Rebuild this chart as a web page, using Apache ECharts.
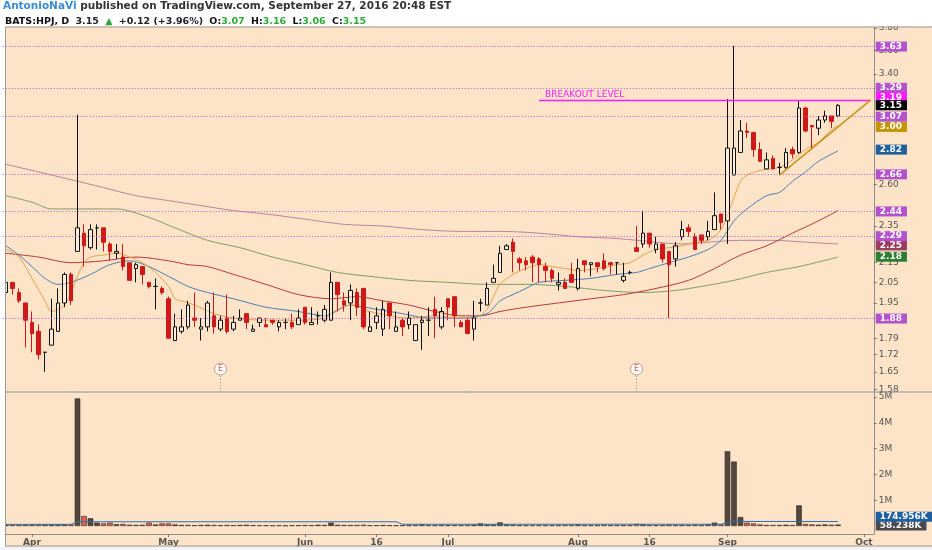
<!DOCTYPE html>
<html><head><meta charset="utf-8">
<script src="https://cdn.jsdelivr.net/npm/echarts@6/dist/echarts.min.js"></script>
<style>html,body{margin:0;padding:0;background:#fff;}#c{width:932px;height:550px;}</style>
</head><body><div id="c"></div>
<script>
const dates = ['03-28','03-29','03-30','03-31',
'04-01','04-04','04-05','04-06','04-07','04-08','04-11','04-12','04-13','04-14','04-15','04-18','04-19','04-20','04-21','04-22','04-25','04-26','04-27','04-28','04-29',
'05-02','05-03','05-04','05-05','05-06','05-09','05-10','05-11','05-12','05-13','05-16','05-17','05-18','05-19','05-20','05-23','05-24','05-25','05-26','05-27','05-31',
'06-01','06-02','06-03','06-06','06-07','06-08','06-09','06-10','06-13','06-14','06-15','06-16','06-17','06-20','06-21','06-22','06-23','06-24','06-27','06-28','06-29','06-30',
'07-01','07-05','07-06','07-07','07-08','07-11','07-12','07-13','07-14','07-15','07-18','07-19','07-20','07-21','07-22','07-25','07-26','07-27','07-28','07-29',
'08-01','08-02','08-03','08-04','08-05','08-08','08-09','08-10','08-11','08-12','08-15','08-16','08-17','08-18','08-19','08-22','08-23','08-24','08-25','08-26','08-29','08-30','08-31',
'09-01','09-02','09-06','09-07','09-08','09-09','09-12','09-13','09-14','09-15','09-16','09-19','09-20','09-21','09-22','09-23','09-26','09-27','09-28','09-29','09-30',
'10-03','10-04'];

const opens = [2.00,2.05,2.00,1.95,1.86,1.82,1.73,1.76,1.82,1.95,
 2.09,2.21,2.31,2.23,2.34,2.34,2.25,2.20,2.18,2.15,
 2.12,2.13,2.05,2.03,2.02,1.97,1.78,1.82,1.84,1.88,
 1.83,1.84,1.89,1.83,1.88,1.83,1.87,1.90,1.82,1.86,
 1.85,1.87,1.84,1.86,1.86,1.85,1.93,1.85,1.89,1.87,
 1.87,2.05,1.96,1.95,2.00,2.02,1.82,1.86,1.83,1.95,
 1.82,1.87,1.85,1.78,1.86,1.87,1.92,1.84,1.97,1.98,
 1.86,1.87,1.83,1.95,1.94,2.05,2.10,2.22,2.26,2.17,
 2.16,2.18,2.17,2.13,2.11,2.04,2.05,2.09,2.02,2.16,
 2.14,2.15,2.16,2.15,2.15,2.06,2.10,2.23,2.25,2.31,
 2.22,2.25,2.21,2.17,2.29,2.34,2.29,2.30,2.29,2.33,
 2.42,2.38,2.66,2.81,2.96,2.95,2.83,2.70,2.77,2.71,
 2.71,2.83,2.81,3.13,3.00,2.98,3.04,3.07,3.07];
const highs = [2.05,2.05,2.02,1.95,1.91,1.85,1.73,1.97,2.02,2.10,
 2.10,3.08,2.36,2.36,2.36,2.34,2.26,2.25,2.25,2.15,
 2.15,2.13,2.05,2.07,2.03,1.98,1.90,1.92,1.96,2.00,
 1.88,1.96,2.00,1.89,1.99,1.89,1.92,1.90,1.85,1.88,
 1.88,1.87,1.87,1.88,1.90,1.92,1.93,1.93,1.91,1.94,
 2.10,2.05,2.00,2.04,2.02,2.02,1.91,1.93,1.96,1.95,
 1.91,1.88,1.91,1.85,1.89,1.93,1.98,1.93,1.97,1.98,
 1.87,1.88,1.96,1.97,2.05,2.14,2.24,2.25,2.28,2.18,
 2.18,2.19,2.18,2.15,2.12,2.10,2.07,2.15,2.17,2.16,
 2.15,2.15,2.20,2.15,2.15,2.15,2.11,2.35,2.44,2.31,
 2.29,2.25,2.21,2.26,2.38,2.36,2.31,2.30,2.38,2.55,
 2.42,3.20,3.64,3.04,3.02,2.95,2.88,2.81,2.79,2.74,
 2.84,2.85,3.19,3.14,3.00,3.07,3.11,3.07,3.16];
const lows = [1.95,1.99,1.95,1.75,1.73,1.70,1.65,1.76,1.82,1.93,
 1.94,2.21,2.13,2.22,2.22,2.21,2.16,2.17,2.11,2.06,
 2.05,2.04,2.02,1.92,1.99,1.79,1.78,1.81,1.83,1.84,
 1.78,1.82,1.81,1.82,1.81,1.82,1.87,1.83,1.82,1.84,
 1.84,1.85,1.82,1.83,1.83,1.85,1.85,1.85,1.85,1.86,
 1.87,1.91,1.91,1.87,1.89,1.83,1.82,1.83,1.80,1.83,
 1.82,1.80,1.83,1.78,1.74,1.80,1.79,1.83,1.87,1.84,
 1.84,1.81,1.78,1.91,1.94,2.05,2.10,2.22,2.10,2.11,
 2.11,2.05,2.05,2.05,2.05,2.01,2.02,2.05,2.01,2.10,
 2.08,2.10,2.11,2.09,2.09,2.05,2.09,2.21,2.23,2.23,
 2.20,2.15,1.88,2.13,2.27,2.29,2.22,2.25,2.27,2.33,
 2.33,2.25,2.66,2.81,2.91,2.78,2.75,2.70,2.70,2.66,
 2.70,2.77,2.80,2.95,2.83,2.93,3.02,2.98,3.06];
const closes = [2.05,2.02,1.96,1.87,1.81,1.72,1.73,1.83,1.95,2.09,
 1.96,2.34,2.24,2.33,2.34,2.26,2.21,2.21,2.13,2.06,
 2.14,2.09,2.03,2.03,2.00,1.79,1.84,1.84,1.94,1.87,
 1.84,1.95,1.84,1.87,1.82,1.86,1.88,1.86,1.83,1.88,
 1.84,1.86,1.86,1.86,1.84,1.88,1.86,1.86,1.89,1.92,
 2.05,1.99,1.94,2.01,1.93,1.84,1.84,1.89,1.92,1.89,
 1.84,1.84,1.88,1.85,1.87,1.87,1.89,1.91,1.93,1.89,
 1.84,1.81,1.88,1.95,2.02,2.07,2.20,2.24,2.21,2.15,
 2.14,2.15,2.14,2.11,2.07,2.05,2.02,2.05,2.12,2.14,
 2.15,2.13,2.12,2.14,2.15,2.08,2.10,2.21,2.31,2.25,
 2.25,2.17,2.14,2.24,2.33,2.32,2.22,2.27,2.32,2.41,
 2.37,2.84,2.84,2.96,2.95,2.83,2.75,2.76,2.70,2.71,
 2.81,2.80,3.13,2.96,2.99,3.04,3.07,3.03,3.15];
// volume in millions
const volumes = [0.05,0.04,0.04,0.05,0.05,0.06,0.05,0.05,0.06,0.07,
 0.06,4.95,0.39,0.30,0.13,0.10,0.13,0.07,0.08,0.05,
 0.04,0.05,0.13,0.06,0.10,0.10,0.06,0.04,0.04,0.03,
 0.04,0.05,0.04,0.03,0.04,0.03,0.04,0.05,0.03,0.03,
 0.03,0.02,0.03,0.02,0.03,0.03,0.04,0.03,0.05,0.04,
 0.13,0.05,0.04,0.04,0.04,0.05,0.03,0.03,0.04,0.03,
 0.03,0.03,0.03,0.03,0.07,0.03,0.03,0.04,0.03,0.04,
 0.03,0.04,0.05,0.10,0.06,0.05,0.14,0.06,0.05,0.03,
 0.03,0.03,0.03,0.03,0.03,0.03,0.04,0.04,0.06,0.03,
 0.03,0.03,0.04,0.03,0.03,0.03,0.03,0.08,0.06,0.04,
 0.03,0.04,0.05,0.04,0.04,0.03,0.05,0.04,0.06,0.13,
 0.06,2.90,2.50,0.35,0.13,0.10,0.06,0.04,0.04,0.04,
 0.05,0.04,0.80,0.08,0.06,0.05,0.06,0.05,0.058238];

// moving averages: [bar index, value]
const maFast = [[0,2.22],[2,2.18],[4,2.07],[6,1.96],[7,1.91],[8,1.92],[9,1.94],[10,2.00],[11,2.08],[12,2.15],[13,2.18],[15,2.19],[17,2.20],[19,2.18],[21,2.15],[23,2.10],[25,2.03],[26,1.97],[27,1.96],[29,1.94],[32,1.90],[35,1.88],[40,1.87],[45,1.87],[49,1.88],[51,1.92],[53,1.94],[56,1.91],[59,1.89],[62,1.88],[66,1.89],[70,1.88],[72,1.88],[74,1.92],[75,1.98],[76,2.04],[78,2.09],[80,2.12],[82,2.14],[84,2.13],[86,2.12],[88,2.11],[91,2.12],[94,2.14],[96,2.15],[98,2.19],[100,2.22],[102,2.23],[104,2.24],[106,2.26],[108,2.27],[110,2.33],[112,2.52],[113,2.62],[114,2.66],[116,2.69],[119,2.71],[121,2.76],[123,2.83],[125,2.88],[127,2.97],[128,3.00]];
const maBlue = [[0,2.24],[2,2.19],[4,2.13],[6,2.07],[8,2.04],[10,2.05],[13,2.09],[16,2.14],[19,2.16],[22,2.13],[25,2.08],[28,2.03],[31,2.00],[35,1.97],[40,1.93],[45,1.91],[49,1.89],[53,1.94],[57,1.92],[61,1.90],[65,1.88],[70,1.88],[74,1.90],[76,1.96],[78,1.99],[80,2.02],[82,2.05],[86,2.06],[90,2.07],[94,2.09],[97,2.10],[99,2.12],[102,2.15],[105,2.18],[108,2.22],[110,2.27],[112,2.38],[114,2.45],[117,2.53],[119,2.55],[121,2.62],[123,2.68],[125,2.75],[128,2.82]];
const maRed = [[0,2.20],[5,2.18],[10,2.15],[15,2.16],[20,2.18],[25,2.16],[28,2.14],[31,2.13],[35,2.09],[40,2.04],[45,1.99],[50,1.97],[54,1.98],[58,1.96],[62,1.94],[66,1.91],[70,1.89],[73,1.89],[76,1.91],[80,1.93],[85,1.95],[90,1.97],[95,1.99],[100,2.02],[105,2.06],[109,2.12],[113,2.19],[117,2.24],[121,2.31],[125,2.38],[128,2.44]];
const maGreen = [[0,2.53],[4,2.49],[7,2.45],[12,2.45],[17,2.45],[22,2.40],[26,2.34],[31,2.27],[36,2.23],[41,2.18],[46,2.14],[51,2.10],[56,2.08],[62,2.06],[68,2.05],[74,2.04],[80,2.04],[86,2.03],[92,2.01],[98,2.00],[103,2.01],[107,2.03],[112,2.06],[117,2.10],[122,2.13],[128,2.18]];
const maMauve = [[0,2.73],[5,2.68],[10,2.63],[15,2.58],[20,2.53],[25,2.50],[30,2.47],[35,2.44],[40,2.42],[46,2.39],[52,2.36],[58,2.35],[64,2.33],[70,2.32],[76,2.32],[82,2.31],[88,2.29],[94,2.28],[100,2.26],[104,2.25],[108,2.26],[113,2.27],[118,2.27],[123,2.26],[128,2.25]];
const volMA = [[0,0.065],[10,0.065],[11,0.165],[60,0.165],[61,0.068],[110,0.07],[111,0.128],[112,0.178],[128,0.174956]];

const levels = [3.63, 3.29, 3.07, 2.66, 2.44, 2.29, 1.88];
const breakoutLevel = 3.19;
const breakoutStart = 82;
const trendLine = [[119, 2.66], [133, 3.19]];
const earningsIdx = [33, 97];
const priceTicks = [1.58, 1.65, 1.72, 1.79, 1.95, 2.05, 2.15, 2.35, 2.60, 3.40, 3.60, 3.80];
const volTicks = [1, 2, 3, 4, 5];
const xTickDates = ['04-01','05-02','06-01','06-16','07-01','08-01','08-16','09-01','10-03'];
const xTickLabels = ['Apr','May','Jun','16','Jul','Aug','16','Sep','Oct'];

// ---------- build ----------
const L = Math.log;
const FONT = 'DejaVu Sans';
const BG = '#fde3c7';
const RED = '#d01818';
const HL = '#b452cd';
const xLabelMap = {};
xTickDates.forEach((d, i) => xLabelMap[d] = xTickLabels[i]);
const n = closes.length;
const candleData = opens.map((o, i) => [L(o), L(closes[i]), L(lows[i]), L(highs[i])]);
const pairs = arr => arr.map(([i, v]) => [dates[i], L(v)]);
const lastVal = arr => arr[arr.length - 1][1];
function badge(text, bg) {
  return { show: true, position: 'end', distance: 2, formatter: text, backgroundColor: bg, color: '#fff',
    fontSize: 9, fontWeight: 'bold', fontFamily: FONT, padding: [1, 5, 0, 4], lineHeight: 9 };
}
const hidden = { color: 'rgba(0,0,0,0)', width: 1, type: 'solid' };
function maSeries(arr, color, badgeBg, dy) {
  const s = { type: 'line', xAxisIndex: 0, yAxisIndex: 0, data: pairs(arr), showSymbol: false, smooth: 0.3,
    lineStyle: { color: color, width: 1 }, silent: true, z: 3 };
  if (badgeBg) {
    s.markLine = { silent: true, symbol: ['none', 'none'], animation: false,
      data: [{ yAxis: L(lastVal(arr)), lineStyle: hidden, label: Object.assign(badge(lastVal(arr).toFixed(2), badgeBg), { offset: [0, dy || 0] }) }] };
  }
  return s;
}

const last = n - 1;
const chg = closes[last] - closes[last - 1];
const pct = chg / closes[last - 1] * 100;
const E_TOP = L(1.661), E_LINE_TOP = L(1.633), E_LINE_BOT = L(1.572);

const markLineData = [];
levels.forEach(v => markLineData.push({ yAxis: L(v), lineStyle: { color: HL, type: [1, 2], width: 1 }, label: badge(v.toFixed(2), HL) }));
markLineData.push([
  { coord: [dates[breakoutStart], L(breakoutLevel)], lineStyle: { color: '#ff19ff', width: 1.3, type: 'solid' },
    label: { show: true, position: 'insideStartTop', formatter: 'BREAKOUT LEVEL', color: '#ff19ff', fontSize: 9, fontFamily: FONT, distance: [6, 1] } },
  { coord: [dates[dates.length - 1], L(breakoutLevel)] }
]);
markLineData.push([
  { coord: [dates[trendLine[0][0]], L(trendLine[0][1])], lineStyle: { color: '#c8961e', width: 1.6, type: 'solid' }, label: { show: false } },
  { coord: [dates[trendLine[1][0]], L(trendLine[1][1])] }
]);
earningsIdx.forEach(i => markLineData.push([
  { coord: [dates[i], E_LINE_TOP], lineStyle: { color: '#a09080', width: 1, type: [1, 2] }, label: { show: false } },
  { coord: [dates[i], E_LINE_BOT] }
]));
markLineData.push({ yAxis: L(breakoutLevel), lineStyle: hidden, label: Object.assign(badge(breakoutLevel.toFixed(2), '#ff19ff'), { offset: [0, -3] }) });
markLineData.push({ yAxis: L(closes[last]), lineStyle: hidden, label: Object.assign(badge(closes[last].toFixed(2), '#000'), { offset: [0, 1] }) });

const option = {
  animation: false,
  backgroundColor: BG,
  textStyle: { fontFamily: FONT },
  title: [
    { left: 3, top: 1, padding: 0,
      text: '{a|AntonioNaVi}{b| published on TradingView.com, September 27, 2016 20:48 EST}',
      textStyle: { rich: { a: { color: '#3a8bd0', fontWeight: 'bold', fontSize: 10.5, fontFamily: FONT },
                           b: { color: '#333', fontSize: 10.5, fontFamily: FONT } } } },
    { left: 5, top: 13, padding: 0,
      text: '{k|BATS:HPJ, D} {n|' + closes[last].toFixed(2) + '} {g|▲} {n|+' + chg.toFixed(2) + ' (+' + pct.toFixed(2) + '%)} ' +
            '{k|O:}{g|' + opens[last].toFixed(2) + '} {k|H:}{g|' + highs[last].toFixed(2) + '} {k|L:}{g|' + lows[last].toFixed(2) + '} {k|C:}{g|' + closes[last].toFixed(2) + '}',
      textStyle: { rich: { k: { color: '#111', fontWeight: 'bold', fontSize: 9.5, fontFamily: FONT },
                           n: { color: '#222', fontSize: 9.5, fontFamily: FONT },
                           g: { color: '#2ea836', fontSize: 9.5, fontFamily: FONT } } } }
  ],
  grid: [
    { left: 2.75, right: 58.25, top: 27, height: 365 },
    { left: 2.75, right: 58.25, top: 392, height: 142 }
  ],
  xAxis: [
    { type: 'category', gridIndex: 0, data: dates, boundaryGap: true, show: false },
    { type: 'category', gridIndex: 1, data: dates, boundaryGap: true,
      axisLine: { onZero: false, lineStyle: { color: '#8f8f8f' } },
      axisTick: { show: true, length: 3, alignWithLabel: true, interval: (i, v) => xLabelMap[v] !== undefined, lineStyle: { color: '#777' } },
      axisLabel: { interval: (i, v) => xLabelMap[v] !== undefined, formatter: v => xLabelMap[v] || '', color: '#555', fontSize: 9, fontWeight: 'bold', fontFamily: FONT, margin: 4 },
      splitLine: { show: false } }
  ],
  yAxis: [
    { type: 'value', gridIndex: 0, position: 'right', min: L(1.571), max: L(3.81),
      axisLine: { show: true, lineStyle: { color: '#8f8f8f' } },
      axisTick: { show: true, length: 3, customValues: priceTicks.map(L), lineStyle: { color: '#777' } },
      axisLabel: { customValues: priceTicks.map(L), formatter: v => Math.exp(v).toFixed(2), color: '#555', fontSize: 9, fontFamily: FONT, margin: 5 },
      splitLine: { show: false } },
    { type: 'value', gridIndex: 1, position: 'right', min: -0.31, max: 5.2,
      axisLine: { show: true, lineStyle: { color: '#8f8f8f' } },
      axisTick: { show: true, length: 3, customValues: volTicks, lineStyle: { color: '#777' } },
      axisLabel: { customValues: volTicks, formatter: v => v + 'M', color: '#555', fontSize: 9, fontFamily: FONT, margin: 5 },
      splitLine: { show: false } }
  ],
  series: [
    maSeries(maMauve, '#b9849a', '#9c3d5e', 1),
    maSeries(maGreen, '#7f9d66', '#2e7d32', 0),
    maSeries(maRed, '#b83a3a', null),
    maSeries(maBlue, '#4a7eb3', '#1f5f9a', 0),
    { type: 'candlestick', xAxisIndex: 0, yAxisIndex: 0, data: candleData, barWidth: 4, z: 4,
      itemStyle: { color: 'rgba(255,255,255,0.35)', borderColor: '#111', color0: RED, borderColor0: RED, borderWidth: 1 },
      markLine: { silent: true, symbol: ['none', 'none'], animation: false, data: markLineData },
      markPoint: { silent: true, animation: false, symbol: 'circle', symbolSize: 12,
        itemStyle: { color: '#fff', borderColor: '#b0a090', borderWidth: 1 },
        label: { show: true, position: 'inside', formatter: 'E', color: '#e2583e', fontSize: 8, fontFamily: FONT },
        data: earningsIdx.map(i => ({ coord: [dates[i], E_TOP] })) } },
    maSeries(maFast, '#e2a447', '#c49400', 2),
    { type: 'bar', xAxisIndex: 1, yAxisIndex: 1, data: volumes, barWidth: '85%',
      itemStyle: { color: p => closes[p.dataIndex] >= opens[p.dataIndex] ? '#54473d' : 'rgba(226,72,66,0.85)',
                   borderColor: '#2e2620', borderWidth: 0.6 },
      markLine: { silent: true, symbol: ['none', 'none'], animation: false,
        data: [{ yAxis: volumes[last], lineStyle: hidden, label: Object.assign(badge((volumes[last] * 1000).toFixed(3) + 'K', '#4a4a4a'), { offset: [0, 1] }) }] } },
    { type: 'line', xAxisIndex: 1, yAxisIndex: 1, data: volMA.map(([i, v]) => [dates[i], v]), showSymbol: false,
      lineStyle: { color: '#2f6fae', width: 1 }, silent: true, z: 5,
      markLine: { silent: true, symbol: ['none', 'none'], animation: false,
        data: [{ yAxis: lastVal(volMA), lineStyle: hidden, label: Object.assign(badge((lastVal(volMA) * 1000).toFixed(3) + 'K', '#1e5fa0'), { offset: [0, -5] }) }] } }
  ],
  graphic: [
    { type: 'rect', z: 5, shape: { x: 0, y: 0, width: 932, height: 26.5 }, style: { fill: '#fff' } },
    { type: 'rect', z: 5, shape: { x: 0, y: 0, width: 5, height: 550 }, style: { fill: '#fff' } },
    { type: 'rect', z: 5, shape: { x: 0, y: 546.5, width: 932, height: 4 }, style: { fill: '#f2f4f7' } },
    { type: 'line', z: 6, shape: { x1: 5, y1: 27, x2: 932, y2: 27 }, style: { stroke: '#9a9a9a', lineWidth: 1 } },
    { type: 'line', z: 6, shape: { x1: 5.5, y1: 27, x2: 5.5, y2: 546.5 }, style: { stroke: '#9a9a9a', lineWidth: 1 } },
    { type: 'line', z: 6, shape: { x1: 5, y1: 546, x2: 932, y2: 546 }, style: { stroke: '#9a9a9a', lineWidth: 1 } },
    { type: 'line', z: 6, shape: { x1: 5, y1: 392, x2: 932, y2: 392 }, style: { stroke: '#8f8f8f', lineWidth: 1 } }
  ]
};
const chart = echarts.init(document.getElementById('c'));
chart.setOption(option);
</script></body></html>
